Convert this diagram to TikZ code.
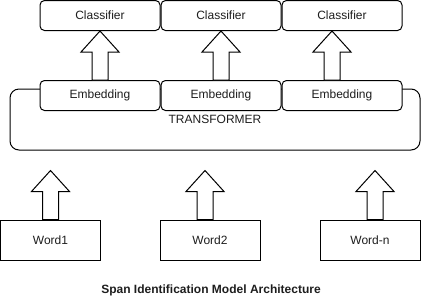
\documentclass[tikz,border=0pt]{standalone}
\usepackage{fontspec}
\setmainfont{Liberation Sans}
\usepackage{tikz}
\usetikzlibrary{positioning}
\definecolor{mydark}{RGB}{30,30,30}
\tikzset{
  roundbox/.style={rectangle, draw=black, fill=white,
    minimum width=120pt, minimum height=30pt, inner sep=0pt,
    font=\fontsize{12}{14}\selectfont, text=mydark,
    rounded corners=4.5pt, line width=1pt},
  wordbox/.style={rectangle, draw=black, fill=white,
    minimum width=100pt, minimum height=40pt, inner sep=0pt,
    font=\fontsize{12}{14}\selectfont, text=mydark, line width=1pt},
  outerbox/.style={rectangle, draw=black, fill=white,
    minimum width=410pt, minimum height=61pt, inner sep=0pt,
    font=\fontsize{12}{14}\selectfont, text=mydark,
    rounded corners=9pt, line width=1pt},
  fatarrow/.pic={
    \draw[line width=1pt, fill=white] (-8,0) -- (-8,-28) -- (-19,-28) -- (0,-49)
      -- (19,-28) -- (8,-28) -- (8,0) -- cycle;
  }
}

\begin{document}
\begin{tikzpicture}[x=1pt, y=-1pt]
  \useasboundingbox (0,0) rectangle (421,301);

  % Transformer block behind the embeddings
  \node[outerbox] (trans) at (215,119.5) {TRANSFORMER};

  % Classifier row
  \node[roundbox] (cls1) at (100,15.5) {Classifier};
  \node[roundbox, right=0pt of cls1] (cls2) {Classifier};
  \node[roundbox, right=0pt of cls2] (cls3) {Classifier};

  % Embedding row
  \node[roundbox, below=49pt of cls1] (emb1) {Embedding};
  \node[roundbox, right=0pt of emb1] (emb2) {Embedding};
  \node[roundbox, right=0pt of emb2] (emb3) {Embedding};

  % Input words
  \node[wordbox] (word1) at (50.5,240) {Word1};
  \node[wordbox] (word2) at (210,240) {Word2};
  \node[wordbox] (wordn) at (370,240) {Word-n};

  % Hollow arrows
  \pic at (emb1.north) {fatarrow};
  \pic at (emb2.north) {fatarrow};
  \pic at ([xshift=-10pt]emb3.north) {fatarrow};
  \pic at (word1.north) {fatarrow};
  \pic at ([xshift=-5pt]word2.north) {fatarrow};
  \pic at ([xshift=5pt]wordn.north) {fatarrow};

  % Caption
  \node[font=\fontsize{12}{14}\selectfont\bfseries, text=mydark] (title) at (211,290)
    {Span Identification Model Architecture};
\end{tikzpicture}
\end{document}
